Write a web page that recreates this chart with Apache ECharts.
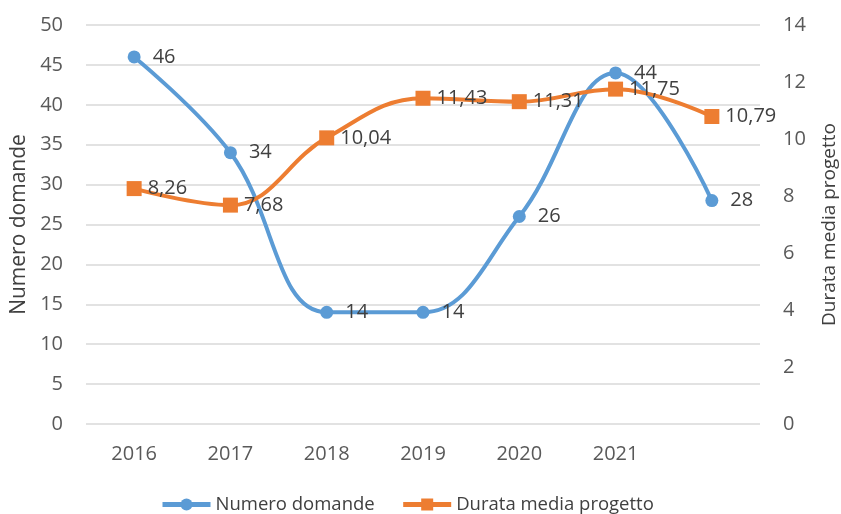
<!DOCTYPE html>
<html>
<head>
<meta charset="utf-8">
<script src="https://cdn.jsdelivr.net/npm/echarts@6/dist/echarts.min.js"></script>
<style>
  html, body { margin: 0; padding: 0; background: #fff; }
  #chart { width: 841px; height: 514px; }
</style>
</head>
<body>
<div id="chart"></div>
<script>
  // dati
  var anni = ['2016', '2017', '2018', '2019', '2020', '2021', ''];
  var numeroDomande = [46, 34, 14, 14, 26, 44, 28];
  var durataMedia = [8.26, 7.68, 10.04, 11.43, 11.31, 11.75, 10.79];
  var leftTicks = { min: 0, max: 50, interval: 5 };
  var rightTicks = { min: 0, max: 14, interval: 2 };

  var font = '"Open Sans", "Noto Sans", sans-serif';

  var chart = echarts.init(document.getElementById('chart'));
  var option = {
    animation: false,
    grid: { left: 86, right: 81, top: 25, bottom: 90, outerBoundsMode: 'none', containLabel: false },
    legend: {
      top: 495,
      left: 160,
      padding: 0,
      itemWidth: 48,
      itemHeight: 15,
      itemGap: 26,
      lineStyle: { width: 5 },
      textStyle: { fontFamily: font, fontSize: 18.5, color: '#404040' },
      data: ['Numero domande', 'Durata media progetto']
    },
    xAxis: {
      type: 'category',
      data: anni,
      boundaryGap: true,
      axisLine: { show: false },
      axisTick: { show: false },
      axisLabel: { fontFamily: font, fontSize: 20, color: '#595959', margin: 20 }
    },
    yAxis: [
      {
        type: 'value',
        min: leftTicks.min, max: leftTicks.max, interval: leftTicks.interval,
        name: 'Numero domande',
        nameLocation: 'middle',
        nameGap: 53,
        nameRotate: 90,
        nameTextStyle: { fontFamily: font, fontSize: 21, color: '#404040' },
        axisLabel: { fontFamily: font, fontSize: 20, color: '#595959', margin: 23 },
        splitLine: { lineStyle: { color: '#d9d9d9', width: 1.5 } }
      },
      {
        type: 'value',
        min: rightTicks.min, max: rightTicks.max, interval: rightTicks.interval,
        name: 'Durata media progetto',
        nameLocation: 'middle',
        nameGap: 60,
        nameRotate: 90,
        nameTextStyle: { fontFamily: font, fontSize: 19, color: '#404040' },
        axisLabel: { fontFamily: font, fontSize: 20, color: '#595959', margin: 23 },
        splitLine: { show: false }
      }
    ],
    series: [
      {
        name: 'Numero domande',
        type: 'line',
        yAxisIndex: 0,
        data: numeroDomande,
        smooth: 0.4,
        symbol: 'circle',
        symbolSize: 13,
        itemStyle: { color: '#5B9BD5' },
        lineStyle: { color: '#5B9BD5', width: 4 },
        label: {
          show: true,
          position: 'right',
          distance: 12,
          fontFamily: font,
          fontSize: 20,
          color: '#404040'
        },
        z: 2
      },
      {
        name: 'Durata media progetto',
        type: 'line',
        yAxisIndex: 1,
        data: durataMedia,
        smooth: 0.4,
        symbol: 'rect',
        symbolSize: 15,
        itemStyle: { color: '#ED7D31' },
        lineStyle: { color: '#ED7D31', width: 4 },
        label: {
          show: true,
          position: 'right',
          distance: 6,
          fontFamily: font,
          fontSize: 20,
          color: '#404040',
          formatter: function (p) { return p.value.toFixed(2).replace('.', ','); }
        },
        z: 3
      }
    ]
  };
  chart.setOption(option);
</script>
</body>
</html>
